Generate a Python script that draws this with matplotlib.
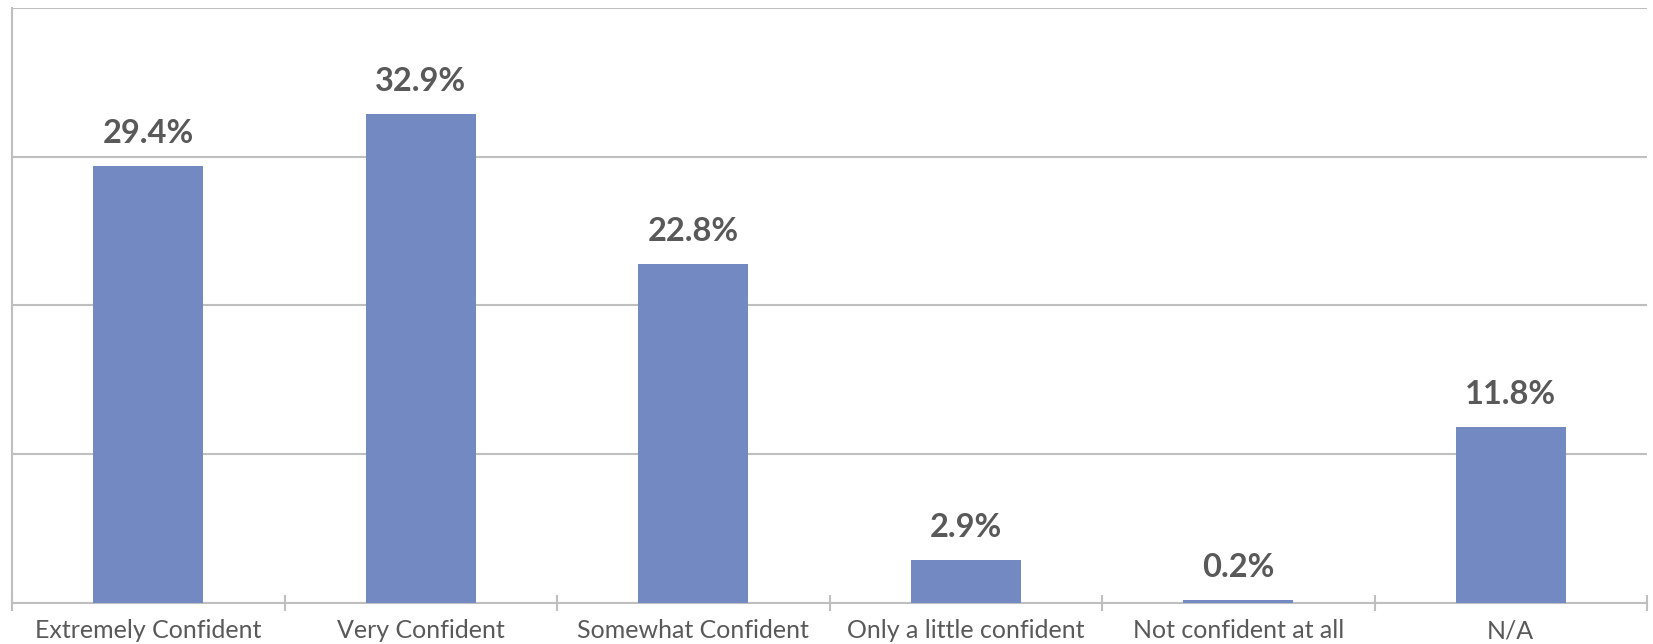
import numpy as np
import matplotlib.pyplot as plt

categories = ["Extremely Confident", "Very Confident", "Somewhat Confident",
              "Only a little confident", "Not confident at all", "N/A"]
values = [29.4, 32.9, 22.8, 2.9, 0.2, 11.8]

BAR = "#7289C2"
GRID = "#BFBFBF"
TEXT = "#595959"

plt.rcParams["font.family"] = ["Lato", "DejaVu Sans"]

fig = plt.figure(figsize=(16.53, 6.44), dpi=100)
ax = fig.add_axes([12 / 1653, 41.3 / 644, (1647 - 12) / 1653, (636 - 41.3) / 644])

x = np.arange(len(categories))
ax.bar(x, values, width=0.405, color=BAR, zorder=3)

for xi, v in zip(x, values):
    ax.annotate(f"{v:.1f}%", (xi, v), xytext=(0, 13), textcoords="offset points",
                ha="center", va="bottom", fontsize=23.5, fontweight="bold", color=TEXT)

ax.set_xlim(-0.5, len(categories) - 0.5)
ax.set_ylim(0, 40)
ax.set_yticks([0, 10, 20, 30, 40])
ax.set_yticklabels([])
ax.tick_params(axis="y", length=0)
ax.grid(axis="y", color=GRID, linewidth=1.5, zorder=0)

# category labels centred, tick marks on the boundaries
ax.set_xticks(x)
ax.set_xticklabels(categories, fontsize=18, color=TEXT)
ax.tick_params(axis="x", which="major", length=0, pad=12)
ax.set_xticks(np.arange(-0.5, len(categories)), minor=True)
ax.tick_params(axis="x", which="minor", length=12, width=1.5, color=GRID, direction="inout")

for side in ["top", "right"]:
    ax.spines[side].set_visible(False)
ax.spines["bottom"].set_color(GRID)
ax.spines["bottom"].set_linewidth(1.5)
ax.spines["left"].set_color(GRID)
ax.spines["left"].set_linewidth(1.5)
ax.spines["left"].set_bounds(0, 40)

fig.savefig("out.png", dpi=100)
